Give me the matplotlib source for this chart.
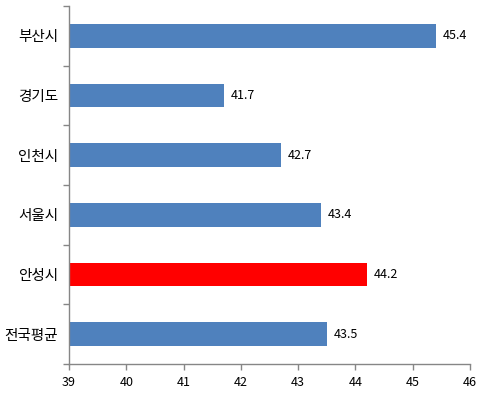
import matplotlib
matplotlib.use("Agg")
import matplotlib.pyplot as plt

plt.rcParams['font.family'] = ['Noto Sans CJK KR', 'DejaVu Sans']

# data, top to bottom as in the chart
regions = ['부산시', '경기도', '인천시', '서울시', '안성시', '전국평균']
values = [45.4, 41.7, 42.7, 43.4, 44.2, 43.5]
colors = ['#4F81BD', '#4F81BD', '#4F81BD', '#4F81BD', '#FF0000', '#4F81BD']
xticks = [39, 40, 41, 42, 43, 44, 45, 46]

fig = plt.figure(figsize=(4.84, 3.93), dpi=100)
ax = fig.add_axes([0.1426, 0.0738, 0.8284, 0.911])

ypos = list(range(len(regions)))[::-1]
ax.barh(ypos, [v - 39 for v in values], left=39, height=0.4, color=colors)

for y, v in zip(ypos, values):
    ax.annotate(f'{v}', xy=(v, y), xytext=(5, 0), textcoords='offset points',
                ha='left', va='center', fontsize=9, color='black')

ax.set_xlim(39, 46)
ax.set_ylim(-0.5, len(regions) - 0.5)
ax.set_xticks(xticks)
ax.set_xticklabels([str(t) for t in xticks], fontsize=9)

# category boundaries get tick marks, centres get the labels
ax.set_yticks([i - 0.5 for i in range(len(regions) + 1)])
ax.set_yticklabels([])
ax.set_yticks(ypos, minor=True)
ax.set_yticklabels(regions, minor=True, fontsize=10.5)
ax.tick_params(axis='y', which='minor', length=0, pad=8)
ax.tick_params(axis='y', which='major', length=4, color='#868686', width=1)
ax.tick_params(axis='x', length=4, color='#868686', width=1, pad=5)

for s in ['top', 'right']:
    ax.spines[s].set_visible(False)
for s in ['left', 'bottom']:
    ax.spines[s].set_color('#868686')
    ax.spines[s].set_linewidth(1)

fig.savefig('out.png', dpi=100)
